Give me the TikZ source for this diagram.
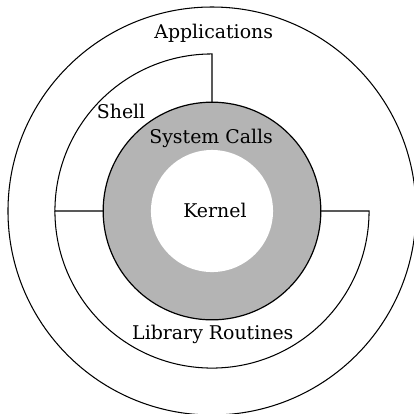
\documentclass[tikz,border=0pt]{standalone}
\usepackage{fontspec}
\setmainfont{DejaVu Serif}
\definecolor{callgray}{RGB}{180,180,180}
\tikzset{
  ring/.style={draw=black, line width=0.7pt},
  lbl/.style={anchor=base, inner sep=0pt, font=\fontsize{12.6}{15}\selectfont}
}
\begin{document}
\begin{tikzpicture}
    \useasboundingbox (-4.967,-4.756) rectangle (4.71,4.944);

    % applications
    \draw[ring] (0,0) circle (4.78);
    \node[lbl] (apps) at (0.04,4.05) {Applications};

    % shell, upper left quarter
    \draw[ring] (0,2.55) -- (0,3.68) arc (90:180:3.68) -- (-2.55,0);
    \node[lbl] (shell) at (-2.13,2.16) {Shell};

    % library routines, lower half
    \draw[ring] (-3.68,0) arc (180:360:3.68) -- (2.55,0);
    \node[lbl] (libs) at (0.02,-3.0) {Library Routines};

    % system calls and kernel
    \filldraw[fill=callgray, draw=black, line width=0.8pt] (0,0) circle (2.55);
    \fill[white] (0,0) circle (1.43);
    \node[lbl] (calls) at (-0.02,1.59) {System Calls};
    \node[lbl] (kernel) at (0.07,-0.16) {Kernel};
\end{tikzpicture}
\end{document}
